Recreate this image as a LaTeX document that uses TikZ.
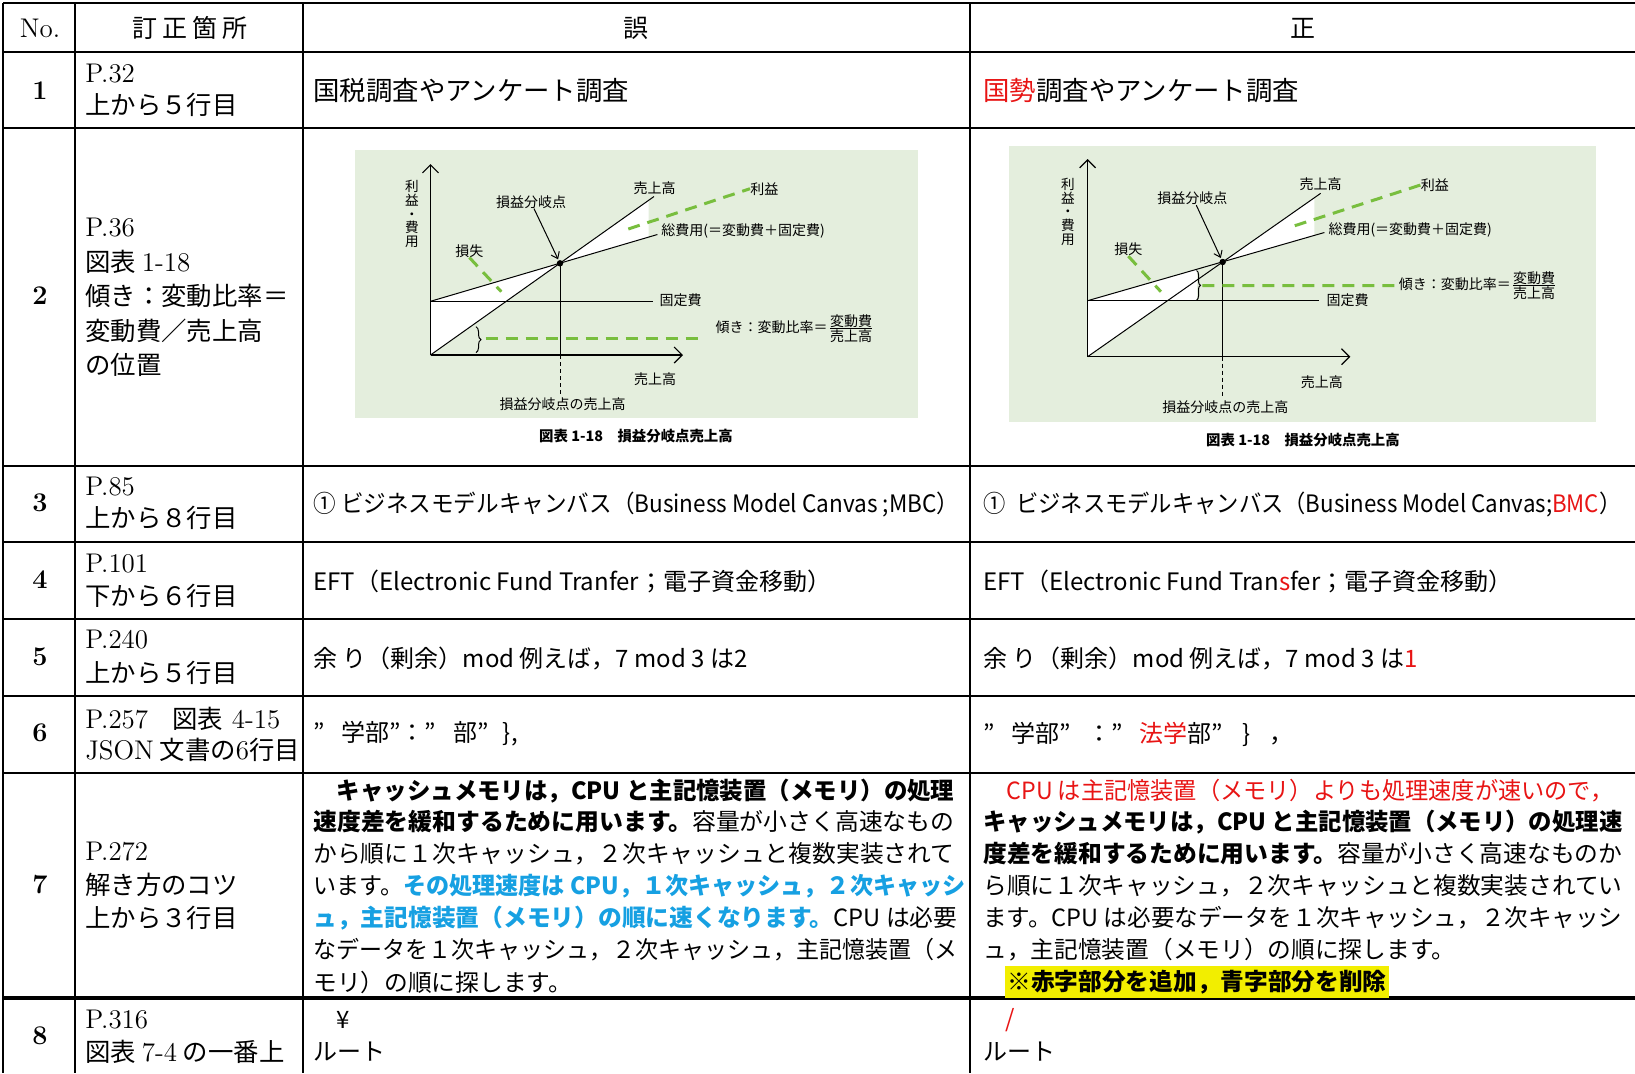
\documentclass[tikz,border=0pt]{standalone}
\usepackage{fontspec}
\usepackage{graphicx}
\newfontfamily\jpfont{Noto Sans CJK JP}
\usetikzlibrary{arrows.meta,decorations.pathreplacing}
\definecolor{chartbg}{RGB}{228,238,221}
\definecolor{dashgreen}{RGB}{120,190,62}
\definecolor{fixred}{RGB}{232,20,20}
\definecolor{delblue}{RGB}{22,160,226}
\definecolor{marker}{RGB}{242,238,0}
\newcommand{\fitto}[2]{\resizebox{#1}{\height}{#2}}

\begin{document}
\begin{tikzpicture}[x=0.5pt,y=-0.5pt]
                \tikzset{RuleStyle/.style={line width=1.4pt}}
                \tikzset{NumStyle/.style={inner sep=0pt, font=\rmfamily\bfseries\fontsize{13.5}{16}\selectfont}}
                \tikzset{PageStyle/.style={anchor=west, inner sep=0pt, font=\rmfamily\fontsize{13.5}{16}\selectfont}}
                \tikzset{PlaceStyle/.style={anchor=west, inner sep=0pt, font=\jpfont\fontsize{12.7}{16}\selectfont}}
                \tikzset{CellStyle/.style={anchor=west, inner sep=0pt, font=\jpfont\fontsize{12}{16}\selectfont}}
                \tikzset{ParaStyle/.style={anchor=west, inner sep=0pt, font=\jpfont\fontsize{11.85}{16}\selectfont}}
                \tikzset{ChartText/.style={inner sep=0pt, font=\jpfont\fontsize{7}{8.5}\selectfont}}
                \tikzset{ChartLine/.style={line width=0.5pt}}
                \tikzset{AxisStyle/.style={line width=0.6pt, -{Straight Barb[length=4pt,width=8pt]}}}
                \tikzset{GreenDash/.style={dashgreen, line width=1.5pt, dash pattern=on 6pt off 4pt}}

                \useasboundingbox (0,0) rectangle (1635,1073);
                \fill[white] (0,0) rectangle (1635,1073);

                % left chart
                \fill[chartbg] (355,150) rectangle (918,418);
                \coordinate (lO) at (430.5,355);
                \coordinate (lYtop) at (430.5,164);
                \coordinate (lXend) at (683,355);
                \coordinate (lFix0) at (430.5,301.3);
                \coordinate (lFix1) at (653,301.3);
                \coordinate (lBep) at (560,263.3);
                \coordinate (lSale1) at (654,196.5);
                \coordinate (lCost1) at (657.4,234.5);
                \coordinate (lBepX) at (560,355);
                \coordinate (lBepLow) at (560,396.7);
                \fill[white] (lO) -- (lFix0) -- (lBep) -- cycle;
                \fill[white] (lBep) -- (648.7,200.5) -- (648.7,237.4) -- cycle;
                \draw[AxisStyle] (lO) -- (lYtop);
                \draw[AxisStyle] (lO) -- (lXend);
                \draw[ChartLine] (lFix0) -- (lFix1);
                \draw[ChartLine] (lO) -- (lSale1);
                \draw[ChartLine] (lFix0) -- (lCost1);
                \draw[ChartLine] (lBep) -- (lBepX);
                \draw[ChartLine, dash pattern=on 2pt off 1.5pt] (lBepX) -- (lBepLow);
                \fill (lBep) circle (1.6pt);
                \draw[ChartLine, decorate, decoration={brace, amplitude=2.5pt}] (476,326.7) -- (476,352.7);

                \node[ChartText, align=center, font=\jpfont\fontsize{6.8}{6.9}\selectfont] (lYlab) at (412,214) {利\\益\\・\\費\\用};
                \node[ChartText] (lBepText) at (531,201.7) {損益分岐点};
                \node[ChartText] (lSaleText) at (654.6,187.7) {売上高};
                \node[ChartText, anchor=west] (lProfitText) at (750,188.7) {利益};
                \node[ChartText, anchor=west] (lCostText) at (661,231.3) {総費用(＝変動費＋固定費)};
                \node[ChartText] (lLossText) at (469.4,250.7) {損失};
                \node[ChartText, anchor=west] (lFixText) at (659.2,300.7) {固定費};
                \node[ChartText, anchor=west] (lSlopeText) at (715.3,328.5) {傾き：変動比率＝$\frac{\mbox{変動費}}{\mbox{売上高}}$};
                \node[ChartText] (lXlab) at (655,379.3) {売上高};
                \node[ChartText] (lBepSale) at (562.7,404.3) {損益分岐点の売上高};
                \node[ChartText, font=\jpfont\bfseries\fontsize{7.2}{8.5}\selectfont] (lCaption) at (636,436) {図表 1-18　損益分岐点売上高};

                \draw[ChartLine, -{Straight Barb[length=3pt,width=4.5pt]}, shorten >=2.2pt] ([xshift=1.5pt]lBepText.south) -- (lBep);
                \draw[GreenDash] (628.3,229) -- (lProfitText.west);
                \draw[GreenDash] (lLossText.south) -- (501.3,291.7);
                \draw[GreenDash] (485.6,338.7) -- (701.3,338.7);

                % right chart
                \fill[chartbg] (1008.8,146) rectangle (1596,422.3);
                \coordinate (rO) at (1087.6,356.7);
                \coordinate (rYtop) at (1087.6,159);
                \coordinate (rXend) at (1350.3,356.7);
                \coordinate (rFix0) at (1087.6,300.7);
                \coordinate (rFix1) at (1318.9,300.7);
                \coordinate (rBep) at (1222.7,262);
                \coordinate (rSale1) at (1320.7,193.3);
                \coordinate (rCost1) at (1324.4,232.5);
                \coordinate (rBepX) at (1222.7,356.7);
                \coordinate (rBepLow) at (1222.7,396.7);
                \fill[white] (rO) -- (rFix0) -- (1196.8,269.4) -- (1196.8,300.7) -- (1167.5,300.7) -- cycle;
                \fill[white] (rBep) -- (1314.4,197.7) -- (1314.4,235.7) -- cycle;
                \draw[AxisStyle] (rO) -- (rYtop);
                \draw[AxisStyle] (rO) -- (rXend);
                \draw[ChartLine] (rFix0) -- (rFix1);
                \draw[ChartLine] (rO) -- (rSale1);
                \draw[ChartLine] (rFix0) -- (rCost1);
                \draw[ChartLine] (rBep) -- (rBepX);
                \draw[ChartLine, dash pattern=on 2pt off 1.5pt] (rBepX) -- (rBepLow);
                \fill (rBep) circle (1.6pt);
                \draw[ChartLine, decorate, decoration={brace, amplitude=2pt}] (1196.5,270.5) -- (1196.5,300.2);

                \node[ChartText, align=center, font=\jpfont\fontsize{6.8}{6.9}\selectfont] (rYlab) at (1068,211.7) {利\\益\\・\\費\\用};
                \node[ChartText] (rBepText) at (1192.3,198.3) {損益分岐点};
                \node[ChartText] (rSaleText) at (1320.7,184.3) {売上高};
                \node[ChartText, anchor=west] (rProfitText) at (1420.5,185) {利益};
                \node[ChartText, anchor=west] (rCostText) at (1328.1,230) {総費用(＝変動費＋固定費)};
                \node[ChartText] (rLossText) at (1128.3,249.3) {損失};
                \node[ChartText, anchor=west] (rFixText) at (1326.3,300) {固定費};
                \node[ChartText, anchor=west] (rSlopeText) at (1398.4,285.5) {傾き：変動比率＝$\frac{\mbox{変動費}}{\mbox{売上高}}$};
                \node[ChartText] (rXlab) at (1321.8,381.7) {売上高};
                \node[ChartText] (rBepSale) at (1225.3,406.7) {損益分岐点の売上高};
                \node[ChartText, font=\jpfont\bfseries\fontsize{7.2}{8.5}\selectfont] (rCaption) at (1303,440) {図表 1-18　損益分岐点売上高};

                \draw[ChartLine, -{Straight Barb[length=3pt,width=4.5pt]}, shorten >=2.2pt] ([xshift=2pt]rBepText.south) -- (rBep);
                \draw[GreenDash] (1294.8,225.7) -- (rProfitText.west);
                \draw[GreenDash] (rLossText.south) -- (1160.9,291.7);
                \draw[GreenDash] (1202.3,285.7) -- (rSlopeText.west);

                % table rules
                \draw[RuleStyle] (3,3) -- (1635,3);
                \draw[RuleStyle] (3,52) -- (1635,52);
                \draw[RuleStyle] (3,128) -- (1635,128);
                \draw[RuleStyle] (3,466) -- (1635,466);
                \draw[RuleStyle] (3,542) -- (1635,542);
                \draw[RuleStyle] (3,619) -- (1635,619);
                \draw[RuleStyle] (3,696) -- (1635,696);
                \draw[RuleStyle] (3,773) -- (1635,773);
                \draw[RuleStyle, line width=2.2pt] (3,998) -- (1635,998);
                \draw[RuleStyle] (3,3) -- (3,1073);
                \draw[RuleStyle] (75,3) -- (75,1073);
                \draw[RuleStyle] (303,3) -- (303,1073);
                \draw[RuleStyle] (970,3) -- (970,1073);

                % header
                \node[inner sep=0pt, font=\rmfamily\fontsize{13.5}{16}\selectfont] (hNo) at (40,28) {No.};
                \node[inner sep=0pt, font=\jpfont\fontsize{12.5}{16}\selectfont] (hPlace) at (190,28) {訂\hspace{2.6pt}正\hspace{2.6pt}箇\hspace{2.6pt}所};
                \node[inner sep=0pt, font=\jpfont\fontsize{12.5}{16}\selectfont] (hWrong) at (636,28) {誤};
                \node[inner sep=0pt, font=\jpfont\fontsize{12.5}{16}\selectfont] (hRight) at (1303,28) {正};

                % No.
                \node[NumStyle] (n1) at (40,91) {1};
                \node[NumStyle] (n2) at (40,296) {2};
                \node[NumStyle] (n3) at (40,503) {3};
                \node[NumStyle] (n4) at (40,580) {4};
                \node[NumStyle] (n5) at (40,657) {5};
                \node[NumStyle] (n6) at (40,733) {6};
                \node[NumStyle] (n7) at (40,885) {7};
                \node[NumStyle] (n8) at (40,1036) {8};

                % place
                \node[PageStyle] (p1a) at (85,74) {P.32};
                \node[PlaceStyle] (p1b) at (85,105) {上から５行目};
                \node[PageStyle] (p2a) at (85,228) {P.36};
                \node[PlaceStyle] (p2b) at (85,262) {図表 {\rmfamily\fontsize{13.5}{16}\selectfont 1-18}};
                \node[PlaceStyle] (p2c) at (85,296) {傾き：変動比率＝};
                \node[PlaceStyle] (p2d) at (85,331) {変動費／売上高};
                \node[PlaceStyle] (p2e) at (85,365) {の位置};
                \node[PageStyle] (p3a) at (85,487) {P.85};
                \node[PlaceStyle] (p3b) at (85,518) {上から８行目};
                \node[PageStyle] (p4a) at (85,564) {P.101};
                \node[PlaceStyle] (p4b) at (85,596) {下から６行目};
                \node[PageStyle] (p5a) at (85,640) {P.240};
                \node[PlaceStyle] (p5b) at (85,673) {上から５行目};
                \node[PageStyle] (p6a) at (85,719) {P.257\hspace{12pt}{\jpfont\fontsize{12.7}{16}\selectfont 図表} 4-15};
                \node[PlaceStyle] (p6b) at (85,750) {{\rmfamily\fontsize{13.5}{16}\selectfont JSON} 文書の{\rmfamily\fontsize{13.5}{16}\selectfont 6}行目};
                \node[PageStyle] (p7a) at (85,852) {P.272};
                \node[PlaceStyle] (p7b) at (85,885) {解き方のコツ};
                \node[PlaceStyle] (p7c) at (85,918) {上から３行目};
                \node[PageStyle] (p8a) at (85,1020) {P.316};
                \node[PlaceStyle] (p8b) at (85,1052) {図表 {\rmfamily\fontsize{13.5}{16}\selectfont 7-4} の一番上};

                % wrong / right
                \node[CellStyle, font=\jpfont\fontsize{13.2}{16}\selectfont] (w1) at (313,91) {国税調査やアンケート調査};
                \node[CellStyle, font=\jpfont\fontsize{13.2}{16}\selectfont] (r1) at (983,91) {{\color{fixred}国勢}調査やアンケート調査};

                \node[CellStyle] (w3) at (313,504) {\fitto{323pt}{① ビジネスモデルキャンバス（Business Model Canvas ;MBC）}};
                \node[CellStyle] (r3) at (983,504) {\fitto{319pt}{①\hspace{3pt} ビジネスモデルキャンバス（Business Model Canvas;{\color{fixred}BMC}）}};

                \node[CellStyle] (w4) at (313,581) {EFT（Electronic Fund Tranfer；電子資金移動）};
                \node[CellStyle] (r4) at (983,581) {EFT（Electronic Fund Tran{\color{fixred}s}fer；電子資金移動）};

                \node[CellStyle] (w5) at (313,658) {余 り（剰余）mod 例えば，7 mod 3 は2};
                \node[CellStyle] (r5) at (983,658) {余 り（剰余）mod 例えば，7 mod 3 は{\color{fixred}1}};

                \node[CellStyle] (w6) at (313,734) {”\hspace{.7em}学部”：”\hspace{.7em}部”\hspace{.6em}\},};
                \node[CellStyle] (r6) at (983,734) {”\hspace{.7em}学部”\hspace{.7em}：”\hspace{.7em}{\color{fixred}法学}部”\hspace{.8em}\}\hspace{.8em}，};

                \node[ParaStyle] (w7a) at (313,791) {\fitto{320.5pt}{\hspace{11.85pt}\bfseries キャッシュメモリは，CPU と主記憶装置（メモリ）の処理}};
                \node[ParaStyle] (w7b) at (313,822) {\fitto{320.5pt}{{\bfseries 速度差を緩和するために用います。}容量が小さく高速なもの}};
                \node[ParaStyle] (w7c) at (313,854) {\fitto{320.5pt}{から順に１次キャッシュ，２次キャッシュと複数実装されて}};
                \node[ParaStyle] (w7d) at (313,886) {\fitto{326pt}{います。{\color{delblue}\bfseries その処理速度は CPU，１次キャッシュ，２次キャッシ}}};
                \node[ParaStyle] (w7e) at (313,918) {\fitto{322pt}{{\color{delblue}\bfseries ュ，主記憶装置（メモリ）の順に速くなります。}CPU は必要}};
                \node[ParaStyle] (w7f) at (313,950) {\fitto{322pt}{なデータを１次キャッシュ，２次キャッシュ，主記憶装置（メ}};
                \node[ParaStyle] (w7g) at (313,982) {モリ）の順に探します。};

                \node[ParaStyle] (r7a) at (983,791) {\fitto{315pt}{\hspace{11.85pt}{\color{fixred}CPU は主記憶装置（メモリ）よりも処理速度が速いので，}}};
                \node[ParaStyle] (r7b) at (983,822) {\fitto{319.5pt}{\bfseries キャッシュメモリは，CPU と主記憶装置（メモリ）の処理速}};
                \node[ParaStyle] (r7c) at (983,854) {\fitto{319.5pt}{{\bfseries 度差を緩和するために用います。}容量が小さく高速なものか}};
                \node[ParaStyle] (r7d) at (983,886) {\fitto{319.5pt}{ら順に１次キャッシュ，２次キャッシュと複数実装されてい}};
                \node[ParaStyle] (r7e) at (983,918) {\fitto{319.5pt}{ます。CPU は必要なデータを１次キャッシュ，２次キャッシ}};
                \node[ParaStyle] (r7f) at (983,950) {ュ，主記憶装置（メモリ）の順に探します。};
                \node[ParaStyle, fill=marker, inner xsep=1pt, inner ysep=2pt] (r7g) at (1005,982) {\bfseries ※赤字部分を追加，青字部分を削除};

                \node[CellStyle] (w8a) at (336,1020) {¥};
                \node[CellStyle] (w8b) at (313,1052) {ルート};
                \node[CellStyle, text=fixred] (r8a) at (1005,1020) {/};
                \node[CellStyle] (r8b) at (983,1052) {ルート};

\end{tikzpicture}
\end{document}
